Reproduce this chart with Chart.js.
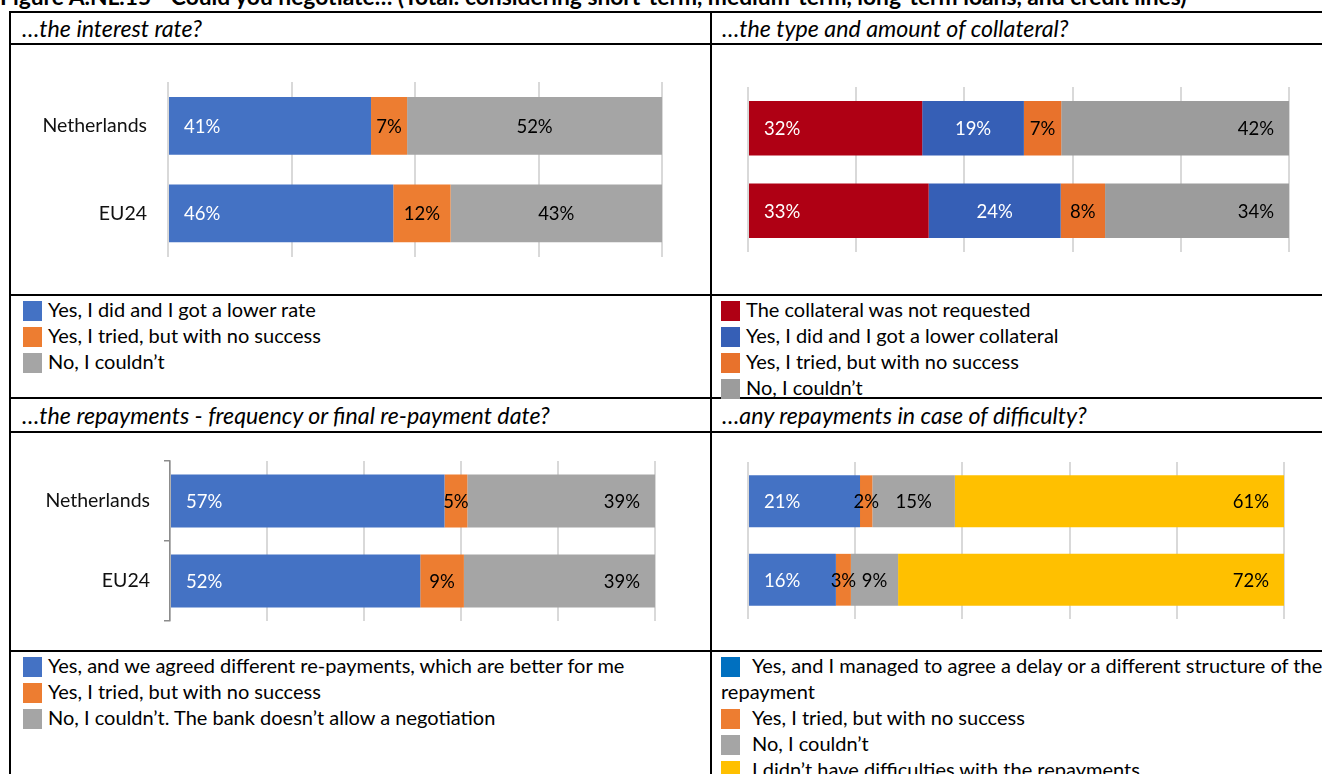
<!DOCTYPE html>
<html>
<head>
<meta charset="utf-8">
<script src="https://cdn.jsdelivr.net/npm/chart.js@4.4.1/dist/chart.umd.min.js"></script>
<style>
  html, body { margin: 0; padding: 0; background: #fff; overflow: hidden; }
  body { width: 1322px; height: 774px; position: relative; font-family: Lato, "Open Sans", sans-serif; color: #000; }
  .hline { position: absolute; height: 2px; background: #000; }
  .vline { position: absolute; width: 2px; background: #000; }
  .title { position: absolute; left: 0; top: -15px; font-weight: bold; font-size: 22.8px; line-height: 23px; white-space: nowrap; }
  .head { position: absolute; font-style: italic; font-size: 23.2px; white-space: nowrap; line-height: 26px; }
  .leg { position: absolute; font-size: 20px; line-height: 26px; white-space: nowrap; }
  .leg .box { display: inline-block; width: 19px; height: 20px; vertical-align: -4px; margin-right: 6px; }
  canvas { position: absolute; }
</style>
</head>
<body>
<div class="title">Figure A.NL.15 - Could you negotiate… (Total: considering short-term, medium-term, long-term loans, and credit lines)</div>

<div class="hline" style="left:9px; top:11px; width:1330px"></div>
<div class="hline" style="left:9px; top:43px; width:1330px"></div>
<div class="hline" style="left:9px; top:294px; width:1330px"></div>
<div class="hline" style="left:9px; top:397px; width:1330px"></div>
<div class="hline" style="left:9px; top:431px; width:1330px"></div>
<div class="hline" style="left:9px; top:650px; width:1330px"></div>
<div class="vline" style="left:9px; top:11px; height:770px"></div>
<div class="vline" style="left:710px; top:11px; height:770px"></div>

<div class="head" style="left:22px; top:15px">…the interest rate?</div>
<div class="head" style="left:722px; top:15px">…the type and amount of collateral?</div>
<div class="head" style="left:22px; top:402px">…the repayments - frequency or final re-payment date?</div>
<div class="head" style="left:722px; top:402px">…any repayments in case of difficulty?</div>

<canvas id="c1" width="699" height="248" style="left:11px; top:46px"></canvas>
<canvas id="c2" width="609" height="248" style="left:713px; top:46px"></canvas>
<canvas id="c3" width="699" height="217" style="left:11px; top:433px"></canvas>
<canvas id="c4" width="609" height="217" style="left:713px; top:433px"></canvas>

<div id="leg1" class="leg" style="left:23px; top:296px"></div>
<div id="leg2" class="leg" style="left:721px; top:296px"></div>
<div id="leg3" class="leg" style="left:23px; top:652px"></div>
<div id="leg4" class="leg" style="left:721px; top:652px; width:614px; white-space:normal"></div>

<script>
// categories
const categories = ["Netherlands", "EU24"];

// ...the interest rate?
const rateSeries = ["Yes, I did and I got a lower rate", "Yes, I tried, but with no success", "No, I couldn\u2019t"];
const rateLower = [41.1, 45.6];
const rateTried = [7.3, 11.6];
const rateNo = [51.6, 42.8];

// ...the type and amount of collateral?
const collSeries = ["The collateral was not requested", "Yes, I did and I got a lower collateral", "Yes, I tried, but with no success", "No, I couldn\u2019t"];
const collNotRequested = [32.2, 33.4];
const collLower = [18.8, 24.4];
const collTried = [6.9, 8.2];
const collNo = [42.1, 34.0];

// ...the repayments - frequency or final re-payment date?
const repSeries = ["Yes, and we agreed different re-payments, which are better for me", "Yes, I tried, but with no success", "No, I couldn\u2019t. The bank doesn\u2019t allow a negotiation"];
const repAgreed = [56.6, 51.6];
const repTried = [4.7, 9.0];
const repNo = [38.7, 39.4];

// ...any repayments in case of difficulty?
const diffSeries = ["Yes, and I managed to agree a delay or a different structure of the repayment", "Yes, I tried, but with no success", "No, I couldn\u2019t", "I didn\u2019t have difficulties with the repayments"];
const diffDelay = [20.9, 16.4];
const diffTried = [2.3, 2.8];
const diffNo = [15.4, 8.8];
const diffNone = [61.4, 72.0];

const BLUE = "#4472C4", ORANGE = "#ED7D31", GREY = "#A5A5A5", YELLOW = "#FFC000";
const RED2 = "#AF0014", BLUE2 = "#365FB6", ORANGE2 = "#E8722C", GREY2 = "#9C9C9C";

// draws the % labels inside the bars
const barLabels = {
  id: "barLabels",
  afterDatasetsDraw(chart) {
    const ctx = chart.ctx;
    const area = chart.chartArea;
    ctx.save();
    ctx.font = "18.5px Lato, sans-serif";
    ctx.textBaseline = "middle";
    chart.data.datasets.forEach((ds, i) => {
      chart.getDatasetMeta(i).data.forEach((bar, j) => {
        const left = Math.max(Math.min(bar.base, bar.x), area.left);
        const right = Math.min(Math.max(bar.base, bar.x), area.right);
        const txt = Math.round(ds.data[j]) + "%";
        ctx.fillStyle = ds.labelColor;
        if (ds.labelPos === "start") {
          ctx.textAlign = "left";
          ctx.fillText(txt, left + 15, bar.y + 1);
        } else if (ds.labelPos === "end") {
          ctx.textAlign = "right";
          ctx.fillText(txt, right - 15, bar.y + 1);
        } else {
          ctx.textAlign = "center";
          ctx.fillText(txt, (left + right) / 2, bar.y + 1);
        }
      });
    });
    ctx.restore();
  }
};

function ds(label, data, color, pos, labelColor) {
  return { label: label, data: data, backgroundColor: color, borderWidth: 0,
           barPercentage: 0.66, categoryPercentage: 1, labelPos: pos, labelColor: labelColor };
}

// box = canvas position on the page, area = wanted plot area on the page
function makeChart(id, box, area, datasets, step, showLabels, bracket) {
  const yWidth = showLabels ? area.l - box.l : 0;
  return new Chart(document.getElementById(id), {
    type: "bar",
    data: { labels: categories, datasets: datasets },
    options: {
      indexAxis: "y",
      responsive: false,
      animation: false,
      layout: { padding: { left: showLabels ? 0 : area.l - box.l, right: box.r - area.r, top: area.t - box.t, bottom: box.b - area.b } },
      plugins: { legend: { display: false }, tooltip: { enabled: false } },
      scales: {
        x: {
          stacked: true, min: 0, max: 100,
          ticks: { display: false, stepSize: step },
          grid: { color: "#d9d9d9", lineWidth: 2, drawTicks: false },
          border: { display: false },
          afterFit(s) { s.height = 0; }
        },
        y: {
          stacked: true,
          ticks: { display: showLabels, color: "#111", font: { family: "Lato", size: 19.5 }, padding: bracket ? 14 : 15 },
          grid: { display: bracket, drawOnChartArea: false, tickLength: 6, color: "#8c8c8c", lineWidth: 1.5 },
          border: { display: bracket, color: "#8c8c8c", width: 1.5 },
          afterFit(s) { s.width = yWidth; }
        }
      }
    },
    plugins: [barLabels]
  });
}

makeChart("c1", { l: 11, t: 46, r: 710, b: 294 }, { l: 168, t: 82, r: 662, b: 257 }, [
  ds(rateSeries[0], rateLower, BLUE, "start", "#fff"),
  ds(rateSeries[1], rateTried, ORANGE, "center", "#000"),
  ds(rateSeries[2], rateNo, GREY, "center", "#000")
], 25, true, false);

makeChart("c2", { l: 713, t: 46, r: 1322, b: 294 }, { l: 748, t: 87, r: 1289, b: 252 }, [
  ds(collSeries[0], collNotRequested, RED2, "start", "#fff"),
  ds(collSeries[1], collLower, BLUE2, "center", "#fff"),
  ds(collSeries[2], collTried, ORANGE2, "center", "#000"),
  ds(collSeries[3], collNo, GREY2, "end", "#000")
], 20, false, false);

makeChart("c3", { l: 11, t: 433, r: 710, b: 650 }, { l: 170, t: 461, r: 655, b: 621 }, [
  ds(repSeries[0], repAgreed, BLUE, "start", "#fff"),
  ds(repSeries[1], repTried, ORANGE, "center", "#000"),
  ds(repSeries[2], repNo, GREY, "end", "#000")
], 20, true, true);

makeChart("c4", { l: 713, t: 433, r: 1322, b: 650 }, { l: 748, t: 462, r: 1284, b: 619 }, [
  ds(diffSeries[0], diffDelay, BLUE, "start", "#fff"),
  ds(diffSeries[1], diffTried, ORANGE, "center", "#000"),
  ds(diffSeries[2], diffNo, GREY, "center", "#000"),
  ds(diffSeries[3], diffNone, YELLOW, "end", "#000")
], 20, false, false);

// legends in the table cells below each chart
function legend(id, names, colors, gap) {
  const el = document.getElementById(id);
  el.innerHTML = names.map((n, i) =>
    '<div><span class="box" style="background:' + colors[i] + (gap ? ';margin-right:' + gap + 'px' : '') + '"></span>' + n + '</div>'
  ).join("");
}
legend("leg1", rateSeries, [BLUE, ORANGE, GREY]);
legend("leg2", collSeries, [RED2, BLUE2, ORANGE2, GREY2]);
legend("leg3", repSeries, [BLUE, ORANGE, GREY]);
legend("leg4", diffSeries, ["#0070C0", ORANGE, GREY, YELLOW], 12);
</script>
</body>
</html>
